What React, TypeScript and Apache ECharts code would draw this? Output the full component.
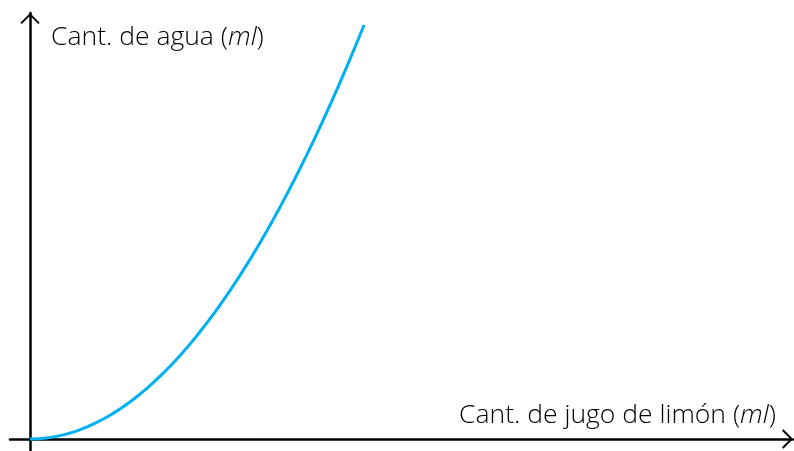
import React, { useEffect, useRef } from "react";
import * as echarts from "echarts";

const juiceValues = [0, 0.5, 1, 1.5, 2, 2.5, 3, 3.5, 4, 4.5, 5, 5.5, 6, 6.5, 7, 7.5, 8, 8.5, 9, 9.5, 10];
const waterValues = [0, 0.25, 1, 2.25, 4, 6.25, 9, 12.25, 16, 20.25, 25, 30.25, 36, 42.25, 49, 56.25, 64, 72.25, 81, 90.25, 100];
const yLabelParts = ["Cant. de agua (", "ml", ")"];
const xLabelParts = ["Cant. de jugo de limón (", "ml", ")"];

const chevron = "path://M10,0 L20,10 L18.6,11.4 L10,2.8 L1.4,11.4 L0,10 Z";

export default function App() {
  const ref = useRef<HTMLDivElement>(null);
  useEffect(() => {
    if (!ref.current) return;
    const chart = echarts.init(ref.current, undefined, { renderer: "svg" });
    const font = "Open Sans";
    const base = { fontFamily: font, fontSize: 26.5, fontWeight: 300, color: "#3a3a3a" };
    const rich = {
      n: { ...base },
      i: { ...base, fontStyle: "italic" },
    };
    const lbl = (p: string[]) => `{n|${p[0]}}{i|${p[1]}}{n|${p[2]}}`;
    chart.setOption({
      animation: false,
      grid: { left: 10, right: 1, top: 13, bottom: 0, containLabel: false },
      xAxis: {
        type: "value",
        min: -0.599,
        max: 22.84,
        axisLine: {
          show: true,
          onZero: true,
          lineStyle: { color: "#000", width: 2.5 },
          symbol: ["none", chevron],
          symbolSize: [20, 11],
          symbolOffset: [0, -5.5],
        },
        axisTick: { show: false },
        axisLabel: { show: false },
        splitLine: { show: false },
      },
      yAxis: {
        type: "value",
        min: -2.9,
        max: 102.9,
        axisLine: {
          show: true,
          onZero: true,
          lineStyle: { color: "#000", width: 2.5 },
          symbol: ["none", chevron],
          symbolSize: [20, 11],
          symbolOffset: [0, -5.5],
        },
        axisTick: { show: false },
        axisLabel: { show: false },
        splitLine: { show: false },
      },
      series: [
        {
          type: "line",
          data: juiceValues.map((x, i) => [x, waterValues[i]]),
          smooth: 0.5,
          showSymbol: false,
          lineStyle: { color: "#00B0F0", width: 3 },
          z: 1,
        },
      ],
      graphic: [
        {
          type: "text",
          left: 51,
          top: 21,
          style: { text: lbl(yLabelParts), rich },
        },
        {
          type: "text",
          left: 459,
          top: 399,
          style: { text: lbl(xLabelParts), rich },
        },
      ],
    });
    return () => chart.dispose();
  }, []);
  return (
    <div
      ref={ref}
      style={{ position: "fixed", left: 0, top: 0, width: 794, height: 451 }}
    />
  );
}
